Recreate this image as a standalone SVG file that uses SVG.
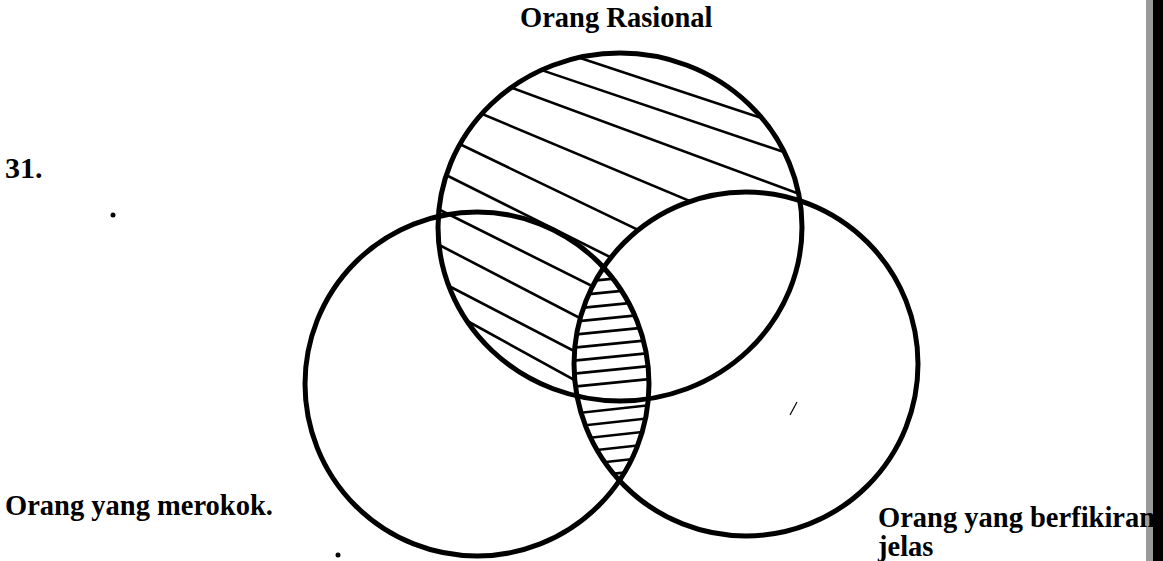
<svg xmlns="http://www.w3.org/2000/svg" width="1163" height="561" viewBox="0 0 1163 561">
<style>
.ring{fill:none;stroke:#000;stroke-width:5}
.hatch{stroke:#000;stroke-width:2.6;fill:none;stroke-linecap:round}
.lbl{font-family:"Liberation Serif","Times New Roman",serif;font-weight:bold;font-size:28.5px;fill:#000}
</style>
<defs>
<clipPath id="clipL"><circle cx="477" cy="384" r="172"/></clipPath>
<clipPath id="clipR"><circle cx="746" cy="364" r="172"/></clipPath>
<mask id="topOnly" maskUnits="userSpaceOnUse" x="0" y="0" width="1163" height="561">
<ellipse cx="620" cy="227" rx="182" ry="174" fill="#fff"/>
<circle cx="746" cy="364" r="172" fill="#000"/>
</mask>
</defs>
<rect width="1163" height="561" fill="#fff"/>
<rect x="1146" y="0" width="17" height="561" fill="#9a9a9a"/>
<rect x="1153" y="0" width="10" height="561" fill="#000"/>
<g id="hatching-diagonal" mask="url(#topOnly)">
<line class="hatch" x1="420" y1="5" x2="840" y2="144"/>
<line class="hatch" x1="420" y1="29" x2="840" y2="171"/>
<line class="hatch" x1="420" y1="54" x2="840" y2="209"/>
<line class="hatch" x1="420" y1="88" x2="840" y2="264"/>
<line class="hatch" x1="420" y1="125" x2="840" y2="327"/>
<line class="hatch" x1="420" y1="162" x2="840" y2="372"/>
<line class="hatch" x1="420" y1="200" x2="840" y2="410"/>
<line class="hatch" x1="420" y1="235" x2="840" y2="453"/>
<line class="hatch" x1="420" y1="271" x2="840" y2="489"/>
<line class="hatch" x1="420" y1="295" x2="840" y2="526"/>
</g>
<g id="hatching-lens" clip-path="url(#clipL)">
<g clip-path="url(#clipR)">
<line class="hatch" x1="560" y1="284" x2="660" y2="274"/>
<line class="hatch" x1="560" y1="297" x2="660" y2="287"/>
<line class="hatch" x1="560" y1="310" x2="660" y2="300"/>
<line class="hatch" x1="560" y1="323" x2="660" y2="313"/>
<line class="hatch" x1="560" y1="336" x2="660" y2="326"/>
<line class="hatch" x1="560" y1="349" x2="660" y2="339"/>
<line class="hatch" x1="560" y1="362" x2="660" y2="352"/>
<line class="hatch" x1="560" y1="375" x2="660" y2="365"/>
<line class="hatch" x1="560" y1="388" x2="660" y2="378"/>
<line class="hatch" x1="560" y1="415" x2="660" y2="404"/>
<line class="hatch" x1="560" y1="428" x2="660" y2="417"/>
<line class="hatch" x1="560" y1="441" x2="660" y2="430"/>
<line class="hatch" x1="560" y1="454" x2="660" y2="443"/>
<line class="hatch" x1="560" y1="467" x2="660" y2="456"/>
<line class="hatch" x1="560" y1="479" x2="660" y2="469"/>
</g>
</g>
<g id="set-rasional">
<ellipse class="ring" cx="620" cy="227" rx="182" ry="174"/>
<text class="lbl" x="520" y="27">Orang Rasional</text>
</g>
<g id="set-merokok">
<circle class="ring" cx="477" cy="384" r="172"/>
<text class="lbl" x="5" y="515">Orang yang merokok.</text>
</g>
<g id="set-berfikiran">
<circle class="ring" cx="746" cy="364" r="172"/>
<text class="lbl" x="878" y="527">Orang yang berfikiran</text>
<text class="lbl" x="878" y="556">jelas</text>
</g>
<g id="connectors"></g>
<g id="marks">
<text x="5" y="178" font-family="'Liberation Serif','Times New Roman',serif" font-size="30" font-weight="bold">31.</text>
<circle cx="113" cy="215" r="2.5" fill="#000"/>
<circle cx="338" cy="555" r="2.5" fill="#000"/>
<line x1="790" y1="415" x2="797" y2="402" stroke="#000" stroke-width="1.2"/>
</g>
</svg>
